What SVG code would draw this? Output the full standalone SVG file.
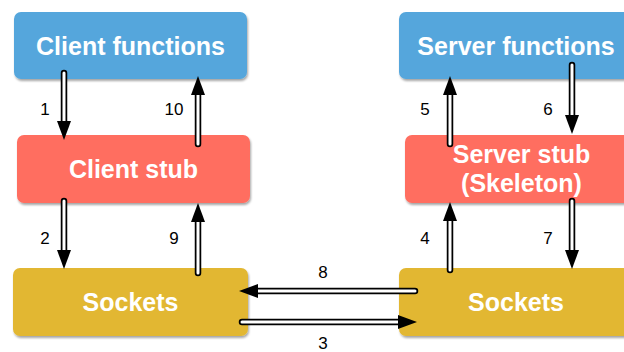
<svg xmlns="http://www.w3.org/2000/svg" width="624" height="352" viewBox="0 0 624 352">
<defs>
<filter id="sh" x="-10%" y="-10%" width="130%" height="140%">
<feDropShadow dx="1" dy="2" stdDeviation="1.2" flood-color="#000" flood-opacity="0.35"/>
</filter>
</defs>
<style>
.box{filter:url(#sh)}
.blue{fill:#54A6DC}
.red{fill:#FF6E61}
.gold{fill:#E2B731}
.t{font-family:"Liberation Sans",Arial,sans-serif;font-weight:bold;font-size:25px;fill:#fff;text-anchor:middle}
.lbl{font-family:"Liberation Sans",Arial,sans-serif;font-size:17px;fill:#000;text-anchor:middle}
.o{stroke:#000;stroke-width:6.5;stroke-linecap:round;fill:none}
.i{stroke:#fff;stroke-width:3;stroke-linecap:round;fill:none}
.h{fill:#000}
</style>
<rect width="624" height="352" fill="#fff"/>
<g id="client-functions">
<rect class="box blue" x="14" y="12" width="233" height="67" rx="7"/>
<text class="t" x="130.5" y="54.5">Client functions</text>
</g>
<g id="client-stub">
<rect class="box red" x="17" y="135" width="233" height="68" rx="7"/>
<text class="t" x="133.5" y="178">Client stub</text>
</g>
<g id="client-sockets">
<rect class="box gold" x="13" y="268" width="235" height="68" rx="7"/>
<text class="t" x="130.5" y="311">Sockets</text>
</g>
<g id="server-functions">
<rect class="box blue" x="399" y="12" width="233" height="67" rx="7"/>
<text class="t" x="516" y="54.5">Server functions</text>
</g>
<g id="server-stub">
<rect class="box red" x="405" y="135" width="233" height="68" rx="7"/>
<text class="t" x="521.5" y="163">Server stub</text>
<text class="t" x="521.5" y="192">(Skeleton)</text>
</g>
<g id="server-sockets">
<rect class="box gold" x="399" y="268" width="233" height="68" rx="7"/>
<text class="t" x="516" y="311">Sockets</text>
</g>
<g id="connectors">
<g id="c1"><path class="o" d="M64 73V122"/><path class="i" d="M64 73V122"/><path class="h" d="M57 121H71L64 140Z"/><text class="lbl" x="45" y="115">1</text></g>
<g id="c10"><path class="o" d="M198 144V94"/><path class="i" d="M198 144V94"/><path class="h" d="M191 95H205L198 76Z"/><text class="lbl" x="174" y="115">10</text></g>
<g id="c2"><path class="o" d="M64 201V251"/><path class="i" d="M64 201V251"/><path class="h" d="M57 250H71L64 269Z"/><text class="lbl" x="45" y="244">2</text></g>
<g id="c9"><path class="o" d="M198 273V221"/><path class="i" d="M198 273V221"/><path class="h" d="M191 222H205L198 203Z"/><text class="lbl" x="174" y="244">9</text></g>
<g id="c5"><path class="o" d="M450 144V94"/><path class="i" d="M450 144V94"/><path class="h" d="M443 95H457L450 76Z"/><text class="lbl" x="425" y="115">5</text></g>
<g id="c6"><path class="o" d="M572 65V116"/><path class="i" d="M572 65V116"/><path class="h" d="M565 115H579L572 134Z"/><text class="lbl" x="548" y="115">6</text></g>
<g id="c4"><path class="o" d="M450 270V220"/><path class="i" d="M450 270V220"/><path class="h" d="M443 221H457L450 202Z"/><text class="lbl" x="425" y="244">4</text></g>
<g id="c7"><path class="o" d="M572 201V251"/><path class="i" d="M572 201V251"/><path class="h" d="M565 250H579L572 269Z"/><text class="lbl" x="548" y="244">7</text></g>
<g id="c8"><path class="o" d="M415 291H257"/><path class="i" d="M415 291H257"/><path class="h" d="M258 284V298L239 291Z"/><text class="lbl" x="323" y="278">8</text></g>
<g id="c3"><path class="o" d="M242 322H399"/><path class="i" d="M242 322H399"/><path class="h" d="M398 315V329L417 322Z"/><text class="lbl" x="323" y="349">3</text></g>
</g>
</svg>
